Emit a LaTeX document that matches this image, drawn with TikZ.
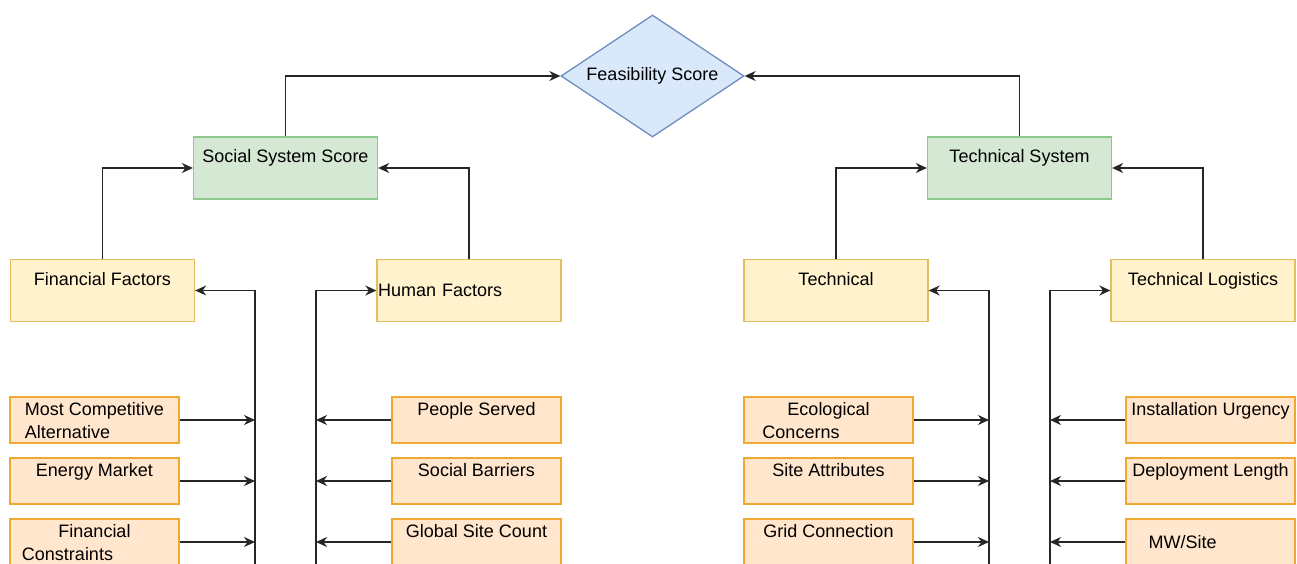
\documentclass[tikz,border=0pt]{standalone}
\usepackage{fontspec}
\setmainfont{Liberation Sans}
\usetikzlibrary{shapes.geometric,arrows.meta,positioning}

\definecolor{scorefill}{HTML}{DAE8FC}
\definecolor{scoreline}{HTML}{6C8EBF}
\definecolor{sysfill}{HTML}{D5E8D4}
\definecolor{sysline}{HTML}{8CC98C}
\definecolor{factfill}{HTML}{FFF2CC}
\definecolor{factline}{HTML}{E3BE5E}
\definecolor{subfill}{HTML}{FFE6CC}
\definecolor{subline}{HTML}{F0A830}

\begin{document}
\begin{tikzpicture}[x=1pt,y=-1pt,
    font=\fontsize{18}{23}\selectfont,
    score/.style={diamond, shape aspect=2, draw=scoreline, fill=scorefill,
      minimum width=183pt, minimum height=122pt, inner sep=0pt, line width=1.3pt},
    system/.style={rectangle, draw=sysline, fill=sysfill, minimum width=184pt,
      inner sep=0pt, text height=26pt, text depth=36pt, line width=1.3pt},
    factor/.style={rectangle, draw=factline, fill=factfill, minimum width=184pt,
      inner sep=0pt, text height=26pt, text depth=35.5pt, line width=1.3pt},
    sub/.style={rectangle, draw=subline, fill=subfill, minimum width=169pt,
      inner sep=0pt, text height=18.5pt, text depth=27.5pt, line width=1.3pt},
    twoline/.style={text height=41.5pt, text depth=4.5pt},
    link/.style={draw=black!85, line width=1.5pt, -{Stealth[length=11pt,width=10pt,inset=3.5pt]}},
  ]
  \clip (0,0) rectangle (1297,564);

  % scores
  \node[score] (fs) at (652.5,76) {Feasibility Score};
  \node[system] (soc) at (285.5,168) {Social System Score};
  \node[system] (tsys) at (1019.5,168) {Technical System};

  % factor groups
  \node[factor] (fin) at (102.5,290.5) {Financial Factors};
  \node[factor, text width=182pt, align=left, text height=37pt, text depth=24.5pt] (hum) at (469,290.5) {Human Factors};
  \node[factor] (tech) at (836,290.5) {Technical};
  \node[factor] (logi) at (1203,290.5) {Technical Logistics};

  % financial inputs
  \node[sub, twoline, align=left] (mca) at (94.5,420) {Most Competitive\\Alternative};
  \node[sub, below=13.7pt of mca] (em) {Energy Market};
  \node[sub, twoline, align=center, below=13.7pt of em] (fc) {Financial\\Constraints\hspace*{54pt}};

  % human inputs
  \node[sub] (ps) at (476.5,420) {People Served};
  \node[sub, below=13.7pt of ps] (sb) {Social Barriers};
  \node[sub, below=13.7pt of sb] (gsc) {Global Site Count};

  % technical inputs
  \node[sub, twoline, align=center] (eco) at (828.5,420) {Ecological\\Concerns\hspace*{55pt}};
  \node[sub, below=13.7pt of eco] (sa) {Site Attributes};
  \node[sub, below=13.7pt of sa] (gc) {Grid Connection};

  % logistics inputs
  \node[sub] (iu) at (1210.5,420) {Installation Urgency};
  \node[sub, below=13.7pt of iu] (dl) {Deployment Length};
  \node[sub, below=13.7pt of dl, text height=29.5pt, text depth=16.5pt] (mws) {MW/Site\hspace*{56pt}};

  % roll up to the scores
  \draw[link] (soc.north) |- (fs.west);
  \draw[link] (tsys.north) |- (fs.east);
  \draw[link] (fin.north) |- (soc.west);
  \draw[link] (hum.north) |- (soc.east);
  \draw[link] (tech.north) |- (tsys.west);
  \draw[link] (logi.north) |- (tsys.east);

  % collecting lines
  \coordinate (busF) at (255,570);
  \coordinate (busH) at (316,570);
  \coordinate (busT) at (989,570);
  \coordinate (busL) at (1050,570);
  \draw[link] (busF) |- (fin.east);
  \draw[link] (busH) |- (hum.west);
  \draw[link] (busT) |- (tech.east);
  \draw[link] (busL) |- (logi.west);

  \foreach \n in {mca,em,fc} \draw[link] (\n.east) -- (\n.east -| busF);
  \foreach \n in {ps,sb,gsc} \draw[link] (\n.west) -- (\n.west -| busH);
  \foreach \n in {eco,sa,gc} \draw[link] (\n.east) -- (\n.east -| busT);
  \foreach \n in {iu,dl,mws} \draw[link] (\n.west) -- (\n.west -| busL);
\end{tikzpicture}
\end{document}
